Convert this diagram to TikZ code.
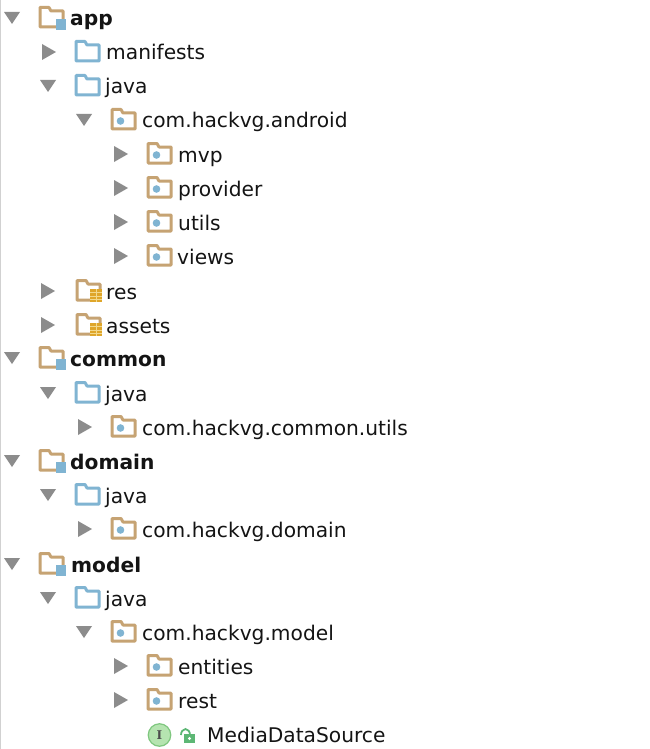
\documentclass[tikz,border=0pt]{standalone}
\usepackage{fontspec}
\setmainfont{DejaVu Sans}
\newfontfamily\ifacefont{DejaVu Serif}
\usetikzlibrary{positioning}
\definecolor{foldertan}{HTML}{C6A373}
\definecolor{folderblue}{HTML}{80B4D2}
\definecolor{treegray}{HTML}{8C8C8C}
\definecolor{goldstack}{HTML}{DFA62A}
\definecolor{goldline}{HTML}{F3D98C}
\definecolor{ifacegreen}{HTML}{B5E4B0}
\definecolor{ifaceline}{HTML}{7FC77F}
\definecolor{lockgreen}{HTML}{5DB775}
\tikzset{
  pics/shell/.style={code={
    \draw[#1,line width=3pt,line join=round,fill=white] (1,-10.5) -- (10,-10.5) -- (12,-7) -- (24,-7) -- (24,9) -- (1,9) -- cycle;
  }},
  pics/modfolder/.style={code={
    \pic {shell=foldertan};
    \fill[folderblue] (17,1) rectangle (27,12);
  }},
  pics/srcfolder/.style={code={
    \pic {shell=folderblue};
  }},
  pics/pkgfolder/.style={code={
    \pic {shell=foldertan};
    \fill[folderblue] (9.5,1) circle (3.8);
  }},
  pics/resfolder/.style={code={
    \pic {shell=foldertan};
    \fill[goldstack] (14,-2) rectangle (26,11);
    \foreach \ly in {1.5,5,8.5}{\draw[goldline,line width=0.8pt] (14,\ly) -- (26,\ly);}
    \draw[goldline,line width=0.8pt] (20,-2) -- (20,11);
  }},
  pics/openarrow/.style={code={
    \fill[treegray] (-8,-6) -- (8,-6) -- (0,6) -- cycle;
  }},
  pics/shutarrow/.style={code={
    \fill[treegray] (-7,-8) -- (7,0) -- (-7,8) -- cycle;
  }}
}
\begin{document}
\begin{tikzpicture}[x=1pt,y=-1pt]
\tikzstyle{lbl}=[anchor=base west,inner sep=0pt,yshift=-1pt,font=\fontsize{20.2}{24}\selectfont,text=black!92];
\tikzstyle{modlbl}=[lbl,font=\fontsize{20.2}{24}\selectfont\bfseries];

\useasboundingbox (0,0) rectangle (650,749);
\fill[white] (0,0) rectangle (650,749);
\fill[black!18] (0,0) rectangle (1,749);

% app
\pic at (12,18) {openarrow};
\pic at (39,18) {modfolder};
\node[modlbl] (app) at (70,25) {app};
\pic at (49,52) {shutarrow};
\pic at (75,52) {srcfolder};
\node[lbl] (manifests) at (106,59) {manifests};
\pic at (48,86) {openarrow};
\pic at (75,86) {srcfolder};
\node[lbl] (appjava) at (105,93) {java};
\pic at (84,120) {openarrow};
\pic at (111,120) {pkgfolder};
\node[lbl] (apppkg) at (142,127) {com.hackvg.android};
\pic at (121,154) {shutarrow};
\pic at (147,154) {pkgfolder};
\node[lbl] (mvp) at (178,161) {mvp};
\pic at (121,188) {shutarrow};
\pic at (147,188) {pkgfolder};
\node[lbl] (provider) at (178,195) {provider};
\pic at (121,222) {shutarrow};
\pic at (147,222) {pkgfolder};
\node[lbl] (utils) at (178,229) {utils};
\pic at (121,256) {shutarrow};
\pic at (147,256) {pkgfolder};
\node[lbl] (views) at (177,263) {views};
\pic at (48,291) {shutarrow};
\pic at (76,291) {resfolder};
\node[lbl] (res) at (106,298) {res};
\pic at (48,325) {shutarrow};
\pic at (76,325) {resfolder};
\node[lbl] (assets) at (106,332) {assets};

% common
\pic at (12,358) {openarrow};
\pic at (39,358) {modfolder};
\node[modlbl] (common) at (70,365) {common};
\pic at (48,393) {openarrow};
\pic at (75,393) {srcfolder};
\node[lbl] (commonjava) at (105,400) {java};
\pic at (85,427) {shutarrow};
\pic at (111,427) {pkgfolder};
\node[lbl] (commonpkg) at (142,434) {com.hackvg.common.utils};

% domain
\pic at (12,461) {openarrow};
\pic at (39,461) {modfolder};
\node[modlbl] (domain) at (70,468) {domain};
\pic at (48,495) {openarrow};
\pic at (75,495) {srcfolder};
\node[lbl] (domainjava) at (105,502) {java};
\pic at (85,529) {shutarrow};
\pic at (111,529) {pkgfolder};
\node[lbl] (domainpkg) at (142,536) {com.hackvg.domain};

% model
\pic at (12,564) {openarrow};
\pic at (39,564) {modfolder};
\node[modlbl] (model) at (71,571) {model};
\pic at (48,598) {openarrow};
\pic at (75,598) {srcfolder};
\node[lbl] (modeljava) at (105,605) {java};
\pic at (84,632) {openarrow};
\pic at (111,632) {pkgfolder};
\node[lbl] (modelpkg) at (142,639) {com.hackvg.model};
\pic at (121,666) {shutarrow};
\pic at (147,666) {pkgfolder};
\node[lbl] (entities) at (178,673) {entities};
\pic at (121,700) {shutarrow};
\pic at (147,700) {pkgfolder};
\node[lbl] (rest) at (178,707) {rest};

% interface row
\node[circle,draw=ifaceline,fill=ifacegreen,line width=1.2pt,minimum size=22.5pt,inner sep=0pt,font=\fontsize{12}{12}\selectfont\ifacefont\bfseries,text=black!70] (iface) at (159.5,735) {I};
\draw[lockgreen,line width=1.8pt] (181,735) arc[start angle=180,end angle=360,x radius=4.5,y radius=6];
\fill[lockgreen] (184,734) rectangle (195,743);
\fill[white] (189.5,738.5) circle (1.6);
\node[lbl] (source) at (207,741) {MediaDataSource};
\end{tikzpicture}
\end{document}
